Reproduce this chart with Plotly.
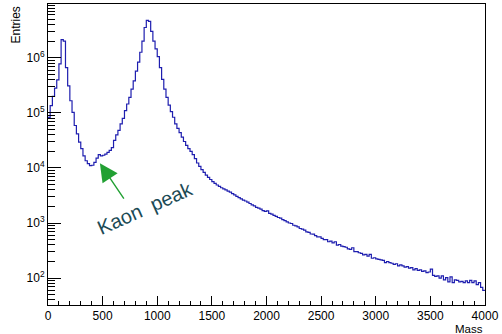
import plotly.graph_objects as go

# ---------------- data ----------------
bin_width = 20
mass_min = 0
counts = [
    83000, 135000, 200000, 282000, 398000, 776000, 2140000, 2000000, 661000, 309000,
    166000, 102000, 59000, 41700, 29500, 22400, 16600, 13500, 12000, 11000,
    11200, 12600, 15100, 17400, 16600, 17000, 17800, 19100, 20900, 23400,
    31600, 39800, 47900, 63100, 79400, 110000, 145000, 191000, 269000, 380000,
    575000, 832000, 1260000, 2000000, 3550000, 4790000, 4570000, 3020000, 2000000, 1450000,
    1050000, 661000, 407000, 269000, 191000, 138000, 105000, 83200, 63100, 52500,
    43700, 36300, 30200, 25700, 22400, 20000, 17400, 14800, 12300, 10700,
    9330, 8320, 7410, 6760, 6170, 5620, 5250, 4900, 4620, 4370,
    4170, 3980, 3800, 3630, 3430, 3240, 3050, 2900, 2750, 2600,
    2510, 2400, 2260, 2140, 2040, 1930, 1860, 1780, 1680, 1620,
    1660, 1500, 1450, 1380, 1320, 1260, 1230, 1150, 1100, 1050,
    1000, 980, 910, 890, 850, 794, 776, 741, 692, 676,
    631, 630, 589, 562, 560, 525, 501, 500, 457, 468,
    437, 457, 398, 407, 380, 372, 363, 339, 331, 355,
    302, 302, 288, 282, 263, 269, 251, 269, 229, 234,
    224, 219, 214, 209, 191, 200, 191, 186, 178, 182,
    166, 174, 166, 158, 162, 151, 155, 141, 148, 138,
    141, 132, 135, 126, 129, 145, 112, 107, 110, 100,
    110, 93, 102, 85, 105, 83, 93, 91, 85, 87,
    83, 89, 83, 91, 83, 89, 76, 83, 68, 60,
]
x_ticks = [0, 500, 1000, 1500, 2000, 2500, 3000, 3500, 4000]
y_ticks = [1e2, 1e3, 1e4, 1e5, 1e6]
y_tick_text = ["10<sup>2</sup>", "10<sup>3</sup>", "10<sup>4</sup>", "10<sup>5</sup>", "10<sup>6</sup>"]
annotation_text = "Kaon  peak"
x_title = "Mass"
y_title = "Entries"

# ---------------- derived ----------------
edges = [mass_min + i * bin_width for i in range(len(counts) + 1)]
y_steps = counts + [counts[-1]]

x_minor = [v for v in range(0, 4001, 100) if v % 500 != 0]
y_minor = [m * 10 ** d for d in range(1, 7) for m in range(2, 10)]

FONT = "Liberation Sans, Arial, Helvetica, sans-serif"
LINE = "rgb(30,30,175)"

fig = go.Figure()
fig.add_trace(go.Scatter(
    x=edges, y=y_steps, mode="lines", line=dict(shape="hv", color=LINE, width=1.2),
    hoverinfo="skip", showlegend=False,
))

fig.update_layout(
    width=502, height=334,
    margin=dict(l=48, r=8, t=3, b=29),
    paper_bgcolor="white", plot_bgcolor="white",
    font=dict(family=FONT, size=11, color="black"),
    showlegend=False,
)
fig.update_xaxes(
    range=[0, 4000.5], tickvals=x_ticks, ticks="inside", ticklen=9, tickwidth=1,
    tickcolor="black", showline=True, linecolor="black", linewidth=1, mirror=True,
    showgrid=False, zeroline=False, tickfont=dict(size=12), ticklabeloverflow="allow",
    minor=dict(tickvals=x_minor, ticks="inside", ticklen=4.5, tickcolor="black", showgrid=False),
)
fig.update_yaxes(
    type="log", range=[1.511, 6.977], tickvals=y_ticks, ticktext=y_tick_text,
    ticks="inside", ticklen=13, tickwidth=1, tickcolor="black",
    showline=True, linecolor="black", linewidth=1, mirror=True,
    showgrid=False, zeroline=False, tickfont=dict(size=12),
    minor=dict(tickvals=y_minor, ticks="inside", ticklen=7, tickcolor="black", showgrid=False),
)

# axis titles placed ROOT-style (at the ends of the axes)
fig.add_annotation(text=x_title, xref="paper", yref="paper", x=1.0, y=0, xanchor="right",
                   yanchor="top", yshift=-15.5, showarrow=False, font=dict(size=11.5, color="black"))
fig.add_annotation(text=y_title, xref="paper", yref="paper", x=0, y=1.0, xanchor="right",
                   yanchor="top", xshift=-24, yshift=-1, textangle=-90, showarrow=False,
                   font=dict(size=12, color="black"))

# Kaon peak label + arrow
fig.add_annotation(text=annotation_text, x=890, y=3.27, xref="x", yref="y", showarrow=False,
                   textangle=-24, font=dict(size=20, color="#1b4a55"))
fig.add_annotation(text="", x=475, y=4.087, xref="x", yref="y", showarrow=True,
                   ax=25, ay=37, arrowhead=2, arrowsize=2.6, arrowwidth=1.4,
                   arrowcolor="#22a033", standoff=0)

fig.write_html("out.html")
